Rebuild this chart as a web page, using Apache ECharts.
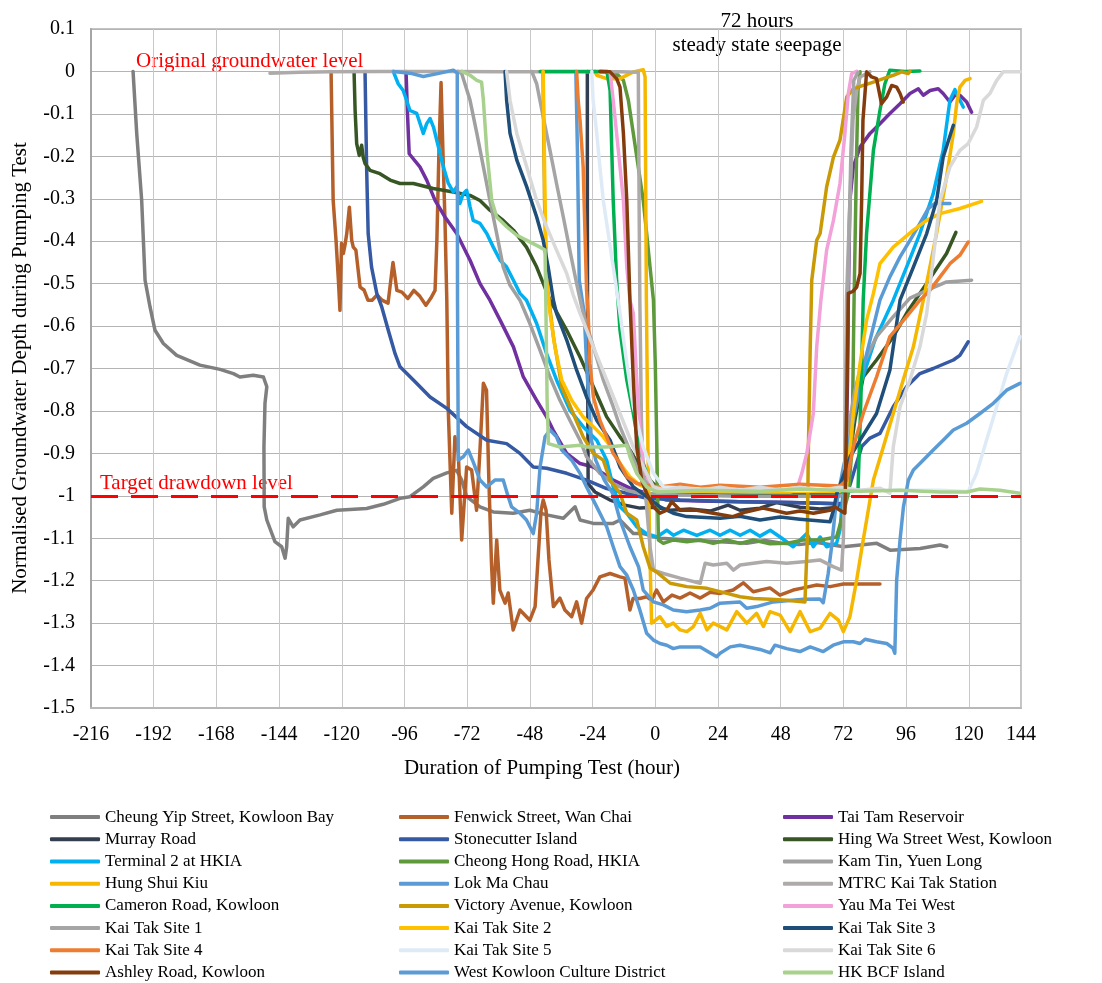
<!DOCTYPE html>
<html>
<head>
<meta charset="utf-8">
<title>Normalised groundwater depth during pumping tests</title>
<script src="https://cdn.jsdelivr.net/npm/echarts@6/dist/echarts.min.js"></script>
<style>
  html, body { margin: 0; padding: 0; background: #ffffff; }
  #chart { width: 1102px; height: 983px; }
</style>
</head>
<body>
<div id="chart"></div>
<script>
// Axis ranges and tick labels
const HOUR_MIN = -216, HOUR_MAX = 140, HOUR_STEP = 24;
const hourTickLabels = ['-216','-192','-168','-144','-120','-96','-72','-48','-24','0','24','48','72','96','120','144'];
const DEPTH_MIN = -1.5, DEPTH_MAX = 0.1, DEPTH_STEP = 0.1;
const depthTickLabels = ['0.1','0','-0.1','-0.2','-0.3','-0.4','-0.5','-0.6','-0.7','-0.8','-0.9','-1','-1.1','-1.2','-1.3','-1.4','-1.5'];
const TARGET_LEVEL = -1;

// Site records: [hour, normalised depth]
const cheungYipStreet = [[-199.9,0],[-198.5,-0.146],[-196.6,-0.304],[-195.3,-0.492],[-193.4,-0.555],[-191.5,-0.61],[-188.3,-0.641],[-183.2,-0.669],[-174.3,-0.692],[-166.6,-0.702],[-161.5,-0.712],[-159,-0.72],[-153.9,-0.716],[-150,-0.72],[-148.7,-0.743],[-149.4,-0.782],[-149.8,-0.885],[-149.7,-1.026],[-148.7,-1.057],[-145.6,-1.108],[-143,-1.12],[-141.7,-1.147],[-141.1,-1.12],[-140.5,-1.053],[-138.6,-1.073],[-136,-1.057],[-128.3,-1.045],[-121.9,-1.034],[-116.9,-1.032],[-110.5,-1.03],[-104.1,-1.02],[-97.7,-1.006],[-93.9,-1.002],[-88.8,-0.979],[-85,-0.959],[-79.8,-0.946],[-76,-0.94],[-74.1,-0.963],[-72.2,-1.002],[-67.1,-1.026],[-62,-1.038],[-54.4,-1.041],[-48,-1.034],[-41.6,-1.045],[-35.2,-1.053],[-30.7,-1.026],[-28.8,-1.057],[-23.7,-1.065],[-16.1,-1.065],[-13.5,-1.057],[-8.4,-1.089],[-4.6,-1.089],[1.9,-1.1],[13.4,-1.104],[24.9,-1.108],[35,-1.112],[42,-1.105],[47.8,-1.111],[55,-1.115],[62,-1.11],[72.1,-1.12],[84.8,-1.112],[89.9,-1.128],[101.4,-1.124],[109,-1.116],[111.6,-1.12]];
const fenwickStreet = [[-124.1,0],[-123.3,-0.304],[-122.2,-0.398],[-121.3,-0.492],[-120.7,-0.563],[-120.1,-0.405],[-119.4,-0.429],[-118.8,-0.41],[-118.1,-0.382],[-117.1,-0.32],[-116.2,-0.398],[-115.6,-0.414],[-114.6,-0.421],[-113,-0.508],[-111.5,-0.515],[-110,-0.539],[-108.4,-0.539],[-106.5,-0.527],[-104.6,-0.539],[-102.3,-0.546],[-100.4,-0.45],[-98.9,-0.516],[-97,-0.52],[-94.7,-0.535],[-92.4,-0.516],[-90.1,-0.53],[-87.8,-0.551],[-85.9,-0.534],[-84.3,-0.516],[-83.6,-0.398],[-82.8,-0.186],[-82,-0.026],[-81.3,-0.186],[-80.5,-0.351],[-79.8,-0.539],[-79.2,-0.805],[-77.9,-1.041],[-76.7,-0.861],[-75.4,-0.899],[-74.1,-1.104],[-72.2,-0.932],[-70.3,-0.939],[-68.4,-1.034],[-67.1,-0.892],[-65.8,-0.735],[-64.6,-0.751],[-63.7,-0.963],[-62.7,-1.158],[-62,-1.253],[-60.7,-1.104],[-59.5,-1.222],[-57.5,-1.253],[-56.3,-1.229],[-54.4,-1.316],[-51.8,-1.269],[-48,-1.293],[-46,-1.261],[-44.9,-1.151],[-43.7,-1.034],[-42.9,-1.01],[-41.8,-1.034],[-40.7,-1.151],[-39,-1.261],[-36.5,-1.241],[-34.6,-1.269],[-32,-1.285],[-30.1,-1.25],[-28.2,-1.3],[-26.3,-1.242],[-23.8,-1.222],[-21.2,-1.191],[-17.3,-1.183],[-13.5,-1.191],[-11.6,-1.194],[-9.7,-1.269],[-8.5,-1.242],[-5.9,-1.242],[-3.3,-1.238],[-1.4,-1.246],[0.5,-1.222],[3.1,-1.25],[6.4,-1.234],[9.5,-1.241],[13.3,-1.229],[17.2,-1.241],[21,-1.227],[24.8,-1.23],[29.8,-1.222],[33.7,-1.205],[37.5,-1.226],[43.9,-1.217],[47.7,-1.234],[52.8,-1.222],[56.7,-1.217],[61.8,-1.21],[66.9,-1.214],[72,-1.208],[86,-1.208]];
const taiTamReservoir = [[-95.4,0],[-94.9,-0.092],[-94.2,-0.194],[-90.1,-0.225],[-87.5,-0.256],[-84.3,-0.304],[-80.5,-0.343],[-76,-0.382],[-70.9,-0.445],[-67.1,-0.5],[-63.3,-0.539],[-59.4,-0.586],[-54.3,-0.649],[-50.5,-0.72],[-45.4,-0.775],[-41.6,-0.814],[-39.1,-0.845],[-33.9,-0.9],[-28.8,-0.924],[-23.7,-0.932],[-16.1,-0.963],[-9.7,-0.982],[-3.3,-0.994],[4.3,-1.01],[17.1,-1.012],[32.4,-1.014],[51.6,-1.016],[66.9,-1.018],[71.8,-1.018],[73,-0.892],[73.6,-0.727],[73.9,-0.539],[74.5,-0.304],[75.8,-0.225],[78.4,-0.178],[82.2,-0.146],[86,-0.123],[89.8,-0.099],[93.7,-0.076],[97.5,-0.052],[100.7,-0.041],[102.6,-0.056],[105.2,-0.045],[108.3,-0.041],[110.2,-0.052],[112.8,-0.072],[114.7,-0.056],[116.6,-0.056],[119.2,-0.072],[121.1,-0.096]];
const murrayRoad = [[-26,0],[-26,-0.304],[-25.9,-0.657],[-25.7,-0.972],[-23.1,-0.991],[-17.3,-1.01],[-11.6,-1.022],[-5.9,-1.029],[0,-1.027],[5.7,-1.034],[13.3,-1.031],[21,-1.036],[27.9,-1.022],[32.4,-1.034],[40.1,-1.029],[46.4,-1.016],[55.4,-1.027],[63,-1.031],[69.9,-1.027]];
const stonecutterIsland = [[-111.1,0],[-110.5,-0.225],[-109.9,-0.382],[-108.6,-0.461],[-106.6,-0.523],[-104.7,-0.555],[-102.2,-0.61],[-99.6,-0.665],[-97.7,-0.696],[-92.6,-0.727],[-86.2,-0.767],[-79.8,-0.794],[-72.2,-0.837],[-64.5,-0.869],[-56.9,-0.877],[-51.8,-0.9],[-46.7,-0.932],[-41.6,-0.935],[-33.9,-0.947],[-26.3,-0.963],[-18.6,-0.983],[-10.9,-0.994],[-3.3,-1.006],[9.5,-1.01],[32.4,-1.014],[51.6,-1.016],[66.9,-1.018],[71.8,-1.022],[74.5,-0.975],[76.8,-0.928],[79.1,-0.883],[82.2,-0.864],[86,-0.853],[91.1,-0.79],[96.2,-0.743],[101.3,-0.712],[106.4,-0.7],[114.1,-0.68],[116.6,-0.669],[119.8,-0.637]];
const hingWaStreetWest = [[-115.3,0],[-114.9,-0.092],[-114.3,-0.17],[-113.3,-0.198],[-112.4,-0.174],[-111.8,-0.202],[-111.1,-0.217],[-109.2,-0.233],[-105.4,-0.241],[-101.5,-0.256],[-97.7,-0.264],[-92.6,-0.264],[-85,-0.276],[-77.3,-0.284],[-70.9,-0.292],[-67.1,-0.304],[-63.3,-0.327],[-58.2,-0.351],[-54.3,-0.374],[-49.3,-0.414],[-45.4,-0.461],[-40.3,-0.539],[-33.9,-0.61],[-28.8,-0.673],[-23.7,-0.743],[-18.6,-0.814],[-16.1,-0.837],[-13.5,-0.861],[-9.7,-0.892],[-5.9,-0.932],[-2.1,-0.963],[1.8,-0.987],[9.5,-0.994],[24.8,-0.998],[47.7,-0.996],[70.7,-0.998],[73.7,-0.94],[76.4,-0.822],[79.6,-0.72],[84.7,-0.68],[91.1,-0.625],[96.2,-0.57],[101.3,-0.523],[106.4,-0.476],[111.5,-0.429],[115.1,-0.379]];
const terminal2Hkia = [[-100.3,0],[-98.4,-0.029],[-96.5,-0.045],[-95.2,-0.068],[-93.9,-0.092],[-91.3,-0.099],[-88.8,-0.146],[-87.5,-0.123],[-86.2,-0.111],[-84.9,-0.131],[-83,-0.178],[-81.1,-0.225],[-79.2,-0.264],[-77.3,-0.284],[-76,-0.272],[-74.8,-0.311],[-73.5,-0.288],[-72.2,-0.28],[-70.9,-0.319],[-69.7,-0.351],[-67.1,-0.358],[-64.5,-0.382],[-62,-0.414],[-59.4,-0.445],[-56.9,-0.461],[-54.3,-0.492],[-51.8,-0.523],[-49.3,-0.539],[-45.4,-0.594],[-41.6,-0.665],[-37.8,-0.727],[-32.7,-0.798],[-27.6,-0.837],[-22.4,-0.869],[-18.6,-0.916],[-16.1,-0.979],[-13.5,-1.026],[-10.9,-1.041],[-7.1,-1.073],[-3.3,-1.089],[0.6,-1.097],[4.4,-1.081],[7,-1.093],[10.8,-1.081],[15.9,-1.093],[21,-1.081],[24.8,-1.093],[28.7,-1.081],[32.5,-1.093],[36.3,-1.081],[40.1,-1.095],[44,-1.081],[47.8,-1.097],[52.8,-1.12],[58,-1.089],[60.5,-1.12],[63.1,-1.097],[65.6,-1.12],[69.4,-1.112],[70.7,-1.081],[72.6,-0.94],[75.3,-0.822],[79.1,-0.727],[84.1,-0.633],[91.1,-0.539],[96.2,-0.461],[101.3,-0.382],[106.4,-0.288],[110.2,-0.186],[112.8,-0.068],[114.7,-0.043],[116,-0.06],[117.9,-0.084]];
const cheongHongRoad = [[-21.2,0],[-15.4,-0.002],[-12.2,-0.021],[-10.3,-0.068],[-8.4,-0.146],[-6.5,-0.225],[-4.6,-0.304],[-3.3,-0.382],[-2,-0.461],[-0.7,-0.539],[0,-0.688],[0.6,-0.885],[0.8,-0.963],[1.2,-1.104],[3.1,-1.112],[7,-1.104],[12.1,-1.108],[17.2,-1.104],[22.2,-1.112],[27.4,-1.104],[32.5,-1.112],[37.5,-1.104],[43.9,-1.113],[50.3,-1.112],[56.5,-1.104],[63.1,-1.104],[69.4,-1.097],[72,-1.041],[73.9,-0.994],[75.3,-0.892],[76.1,-0.539],[77.1,-0.186],[77.6,-0.045],[78.4,-0.001]];
const kamTin = [[-75.5,0],[-74.1,-0.005],[-70.9,-0.068],[-68.3,-0.146],[-65.8,-0.225],[-63.3,-0.304],[-60.7,-0.382],[-58.2,-0.461],[-55.6,-0.504],[-51.8,-0.539],[-48,-0.594],[-44.1,-0.657],[-40.3,-0.72],[-36.5,-0.775],[-32.7,-0.822],[-28.8,-0.869],[-26.3,-0.908],[-21.2,-0.947],[-16.1,-0.971],[-10.9,-0.987],[-5.9,-0.994],[9.5,-0.998],[32.5,-1.001],[55.4,-1.001],[70.7,-1.001],[72.6,-0.94],[74.5,-0.822],[76.4,-0.751],[78.4,-0.704],[84.7,-0.625],[91.1,-0.578],[97.5,-0.534],[103.9,-0.516],[111.5,-0.496],[121.1,-0.492]];
const hungShuiKiu = [[-23.1,0],[-22.4,-0.009],[-18.6,-0.017],[-13.5,-0.017],[-8.4,-0.001],[-4.6,0.004],[-3.9,-0.013],[-3.4,-0.539],[-2.8,-0.892],[-2,-1.151],[-1.4,-1.3],[-0.7,-1.3],[1.8,-1.285],[4.4,-1.308],[6.9,-1.3],[9.5,-1.316],[12.1,-1.32],[14.6,-1.308],[17.2,-1.277],[19.8,-1.316],[22.2,-1.3],[27.4,-1.316],[31.2,-1.273],[35,-1.3],[38.8,-1.277],[41.4,-1.308],[43.9,-1.273],[47.8,-1.281],[51.6,-1.32],[55.4,-1.273],[59.3,-1.32],[63.1,-1.312],[66.9,-1.277],[70.1,-1.293],[72,-1.32],[74.5,-1.285],[77.1,-1.198],[79.6,-1.104],[83.5,-0.963],[87.3,-0.885],[91.1,-0.806],[94.9,-0.727],[98.8,-0.649],[102.6,-0.539],[107.7,-0.381],[111.5,-0.249],[114.1,-0.146],[115.4,-0.075],[116.6,-0.037],[118.6,-0.021],[120.5,-0.017]];
const lokMaChau = [[-30.4,0],[-29.8,-0.186],[-29.1,-0.492],[-27.2,-0.57],[-26.3,-0.688],[-25.3,-0.79],[-24.7,-0.861],[-22.8,-0.916],[-19.5,-0.963],[-16.3,-0.994],[-13.5,-1.057],[-9.7,-1.12],[-6.4,-1.167],[-4.6,-1.222],[-0.7,-1.25],[3.1,-1.257],[6.9,-1.269],[12,-1.273],[17.2,-1.269],[21,-1.265],[24.8,-1.253],[32.4,-1.25],[35,-1.265],[38.8,-1.261],[45.2,-1.25],[50.3,-1.247],[56.7,-1.244],[63,-1.243],[64.3,-1.252],[66.2,-1.183],[67.5,-1.12],[68.8,-1.041],[70.1,-0.994],[72,-0.932],[73.9,-0.885],[75.8,-0.822],[80.3,-0.681],[86,-0.539],[89.8,-0.484],[93.7,-0.437],[97.5,-0.398],[101.3,-0.358],[104.5,-0.323],[107.1,-0.311],[112.8,-0.311]];
const mtrcKaiTakStation = [[-147.5,-0.004],[-136,-0.002],[-124.5,-0.001],[-105.4,0],[-76.7,0],[-59.4,-0.001],[-36.5,-0.001],[-13.5,-0.001],[-6.5,-0.002],[-6.2,-0.304],[-5.9,-0.539],[-5.3,-0.822],[-4.6,-0.947],[-3.3,-1.026],[-2,-1.12],[-0.7,-1.175],[3.1,-1.183],[9.5,-1.194],[17.2,-1.206],[19.1,-1.159],[22.2,-1.163],[27.4,-1.159],[29.9,-1.175],[32.5,-1.163],[37.5,-1.159],[42.6,-1.155],[50.3,-1.159],[57.9,-1.155],[63,-1.151],[68.1,-1.167],[71.3,-1.175],[72,-1.104],[72.6,-0.885],[73.2,-0.539],[74.5,-0.304],[75.7,-0.115],[77.1,-0.045],[78.4,-0.013],[82.2,-0.001]];
const cameronRoad = [[-44.1,0],[-36.5,0],[-28.8,0],[-18.5,0],[-17.3,-0.045],[-16.1,-0.304],[-14.8,-0.492],[-13.5,-0.61],[-10.9,-0.727],[-8.4,-0.806],[-5.9,-0.9],[-3.3,-0.947],[-0.7,-0.979],[1.8,-0.987],[24.8,-0.991],[47.7,-0.991],[70.7,-0.991],[77.6,-0.987],[78.7,-0.775],[79.6,-0.539],[80.9,-0.381],[83.5,-0.186],[86,-0.092],[87.9,-0.029],[89.8,0.003],[95.6,0],[101.3,0.001]];
const victoryAvenue = [[-43,0],[-42.4,-0.304],[-41.6,-0.492],[-39,-0.625],[-35.8,-0.743],[-31.4,-0.806],[-27.6,-0.861],[-23.7,-0.9],[-19.9,-0.916],[-17.3,-0.963],[-13.5,-0.994],[-10.9,-1.041],[-7.1,-1.057],[-4.6,-1.12],[-2,-1.17],[0.6,-1.18],[5.7,-1.206],[12.1,-1.214],[19.8,-1.218],[27.4,-1.23],[32.5,-1.238],[37.6,-1.242],[44,-1.244],[50.3,-1.246],[57.3,-1.25],[58.2,-1.104],[58.6,-0.892],[59.3,-0.657],[59.9,-0.492],[61.8,-0.398],[63.1,-0.382],[65.6,-0.272],[68.2,-0.202],[70.7,-0.162],[73.3,-0.06],[75.8,-0.041],[79.6,-0.033],[83.5,-0.025],[87.3,-0.017],[91.1,-0.009],[94.3,-0.001],[96.8,-0.005],[97.5,0]];
const yauMaTeiWest = [[-18.6,0],[-17.3,-0.002],[-16.1,-0.068],[-14.8,-0.146],[-13.5,-0.225],[-12.2,-0.304],[-10.9,-0.461],[-9.7,-0.539],[-8.4,-0.57],[-7.1,-0.727],[-5.9,-0.845],[-4.6,-0.932],[-2,-0.971],[0.6,-0.987],[17.2,-0.989],[36.3,-0.991],[51.6,-0.991],[54.1,-0.987],[56.1,-0.947],[58,-0.9],[60.5,-0.806],[61.8,-0.649],[63.4,-0.539],[65.6,-0.421],[68.2,-0.351],[70.7,-0.264],[72.6,-0.146],[73.9,-0.052],[75.2,-0.005],[77.1,0]];
const kaiTakSite1 = [[-47.3,0],[-45.4,-0.029],[-42.9,-0.107],[-40.3,-0.186],[-37.8,-0.264],[-35.2,-0.343],[-32.7,-0.421],[-30.1,-0.5],[-27.6,-0.57],[-23.7,-0.649],[-19.9,-0.727],[-16.1,-0.79],[-13.5,-0.837],[-10.3,-0.885],[-7.1,-0.932],[-3.3,-0.971],[0.6,-0.987],[9.5,-0.987],[32.4,-0.984],[55.4,-0.987],[70.7,-0.984],[72.6,-0.94],[73.7,-0.539],[74.9,-0.186],[76,-0.021],[77.6,-0.002]];
const kaiTakSite2 = [[-42.9,0],[-42.2,-0.304],[-41.6,-0.492],[-40.3,-0.57],[-38.4,-0.649],[-35.8,-0.727],[-32,-0.775],[-27.6,-0.814],[-23.7,-0.837],[-19.9,-0.861],[-16.1,-0.892],[-13.5,-0.924],[-9.7,-0.955],[-5.9,-0.975],[-2,-0.984],[9.5,-0.989],[32.4,-0.989],[55.4,-0.989],[70.7,-0.989],[73.2,-0.979],[75.8,-0.806],[78.4,-0.688],[80.9,-0.586],[83.5,-0.523],[86,-0.453],[91.1,-0.414],[98.8,-0.374],[103.9,-0.351],[109,-0.335],[116.6,-0.323],[124.9,-0.306]];
const kaiTakSite3 = [[-57.5,0],[-56.9,-0.068],[-55.6,-0.146],[-53,-0.209],[-49.2,-0.272],[-45.4,-0.343],[-42.9,-0.398],[-41,-0.461],[-39,-0.539],[-37.8,-0.57],[-33.9,-0.633],[-30.1,-0.704],[-26.3,-0.767],[-22.4,-0.822],[-17.3,-0.869],[-13.5,-0.932],[-8.4,-0.979],[-3.3,-1.002],[1.8,-1.026],[6.9,-1.041],[12,-1.049],[24.8,-1.053],[32.4,-1.048],[40.1,-1.057],[47.8,-1.05],[55.4,-1.055],[66.9,-1.061],[68.2,-1.034],[69.5,-0.994],[71.4,-0.963],[74.6,-0.908],[78.4,-0.869],[84.7,-0.806],[89.8,-0.704],[93.7,-0.539],[98.8,-0.461],[103.9,-0.382],[107.7,-0.304],[110.2,-0.202],[114.1,-0.127]];
const kaiTakSite4 = [[-30.1,0],[-29.5,-0.068],[-28.8,-0.115],[-27.6,-0.225],[-26.9,-0.382],[-26.3,-0.516],[-25.7,-0.57],[-25,-0.688],[-23.7,-0.767],[-21.2,-0.822],[-18.6,-0.861],[-16.1,-0.9],[-13.5,-0.924],[-10.9,-0.955],[-7.1,-0.971],[-3.3,-0.975],[1.8,-0.979],[9.5,-0.973],[17.2,-0.98],[24.8,-0.975],[40.1,-0.98],[55.4,-0.973],[70.7,-0.977],[73.3,-0.963],[75.8,-0.885],[79.6,-0.806],[84.7,-0.72],[89.8,-0.625],[96.2,-0.578],[101.3,-0.539],[105.1,-0.516],[109,-0.484],[112.8,-0.453],[116.6,-0.433],[119.8,-0.402]];
const kaiTakSite5 = [[-24.3,0],[-23.8,-0.068],[-22.4,-0.146],[-21.2,-0.225],[-19.9,-0.304],[-18,-0.382],[-16.1,-0.461],[-14.2,-0.539],[-13.5,-0.57],[-10.9,-0.688],[-8.4,-0.79],[-4.6,-0.885],[-0.7,-0.947],[3.1,-0.979],[17.2,-0.984],[47.7,-0.987],[78.4,-0.987],[109,-0.987],[117.4,-0.989],[119.8,-0.99],[123,-0.947],[126.8,-0.869],[130.7,-0.79],[134.5,-0.712],[139.6,-0.625]];
const kaiTakSite6 = [[-56.9,0],[-55.6,-0.068],[-53,-0.146],[-49.2,-0.225],[-45.4,-0.304],[-41.6,-0.366],[-37.8,-0.421],[-33.9,-0.476],[-31.4,-0.527],[-28.8,-0.57],[-23.7,-0.649],[-18.6,-0.727],[-13.5,-0.806],[-8.4,-0.885],[-3.3,-0.947],[-0.7,-0.979],[3.8,-0.987],[9.5,-0.98],[17.2,-0.987],[24.8,-0.98],[32.4,-0.987],[40.1,-0.98],[47.8,-0.987],[55.4,-0.98],[63.1,-0.987],[70.7,-0.98],[78.4,-0.987],[86,-0.982],[89.8,-0.994],[91.1,-0.885],[93.7,-0.79],[97.5,-0.727],[101.3,-0.649],[103.9,-0.57],[106.3,-0.445],[109,-0.304],[112.8,-0.225],[116.6,-0.186],[119.8,-0.17],[123,-0.131],[125.6,-0.068],[128.1,-0.052],[130.7,-0.021],[133.2,-0.001],[139.6,-0.001]];
const ashleyRoad = [[-21.2,0],[-17.3,-0.001],[-14.8,-0.017],[-13.5,-0.037],[-12.2,-0.146],[-10.9,-0.304],[-9.7,-0.539],[-8.4,-0.727],[-7.1,-0.885],[-5.2,-0.963],[-3.3,-0.994],[-0.7,-1.026],[1.8,-1.041],[4.4,-1.034],[6.3,-1.014],[9.5,-1.034],[15.9,-1.034],[22.2,-1.041],[29.7,-1.049],[34.7,-1.038],[41.2,-1.029],[45.1,-1.034],[50.3,-1.041],[55.4,-1.036],[60.5,-1.041],[66.9,-1.034],[68.8,-1.026],[70.7,-1.034],[72.6,-1.041],[73.2,-0.822],[73.9,-0.523],[75.7,-0.518],[77.1,-0.508],[78.4,-0.476],[79,-0.304],[79.5,-0.115],[80.9,-0.001],[82.8,-0.013],[84.7,-0.017],[86.6,-0.076],[88.6,-0.06],[90.5,-0.033],[92.4,-0.037],[93.7,-0.052],[94.9,-0.072]];
const westKowloonCultureDistrict = [[-100.3,0],[-93.9,-0.004],[-88.8,-0.012],[-82.4,-0.004],[-77.3,0.003],[-75.8,-0.004],[-75.7,-0.539],[-75.4,-0.916],[-73.5,-0.908],[-71.6,-0.892],[-69.7,-0.92],[-67.1,-0.963],[-64.5,-0.979],[-61.4,-0.963],[-58.2,-0.963],[-56.3,-1.002],[-55,-1.026],[-51.8,-1.041],[-49.3,-1.057],[-46.7,-1.089],[-45.4,-1.041],[-44.1,-0.932],[-42.2,-0.861],[-40.3,-0.845],[-37.8,-0.861],[-35.8,-0.892],[-32,-0.916],[-28.8,-0.947],[-26.3,-0.979],[-22.4,-1.026],[-18.6,-1.073],[-16.1,-1.12],[-13.5,-1.167],[-10.9,-1.187],[-8.4,-1.222],[-5.9,-1.269],[-3.3,-1.324],[-0.7,-1.34],[1.8,-1.348],[4.4,-1.352],[6.9,-1.36],[9.5,-1.356],[17.2,-1.356],[23.5,-1.379],[24.8,-1.371],[28.7,-1.356],[32.4,-1.352],[40.1,-1.362],[44,-1.37],[45.8,-1.352],[50.3,-1.36],[55.4,-1.367],[59.3,-1.356],[64.3,-1.367],[68.1,-1.352],[72,-1.344],[75.8,-1.344],[78.4,-1.348],[80.3,-1.338],[84.7,-1.344],[88.6,-1.348],[91,-1.359],[91.7,-1.371],[92.4,-1.199],[93.7,-1.104],[95,-1.026],[96.9,-0.963],[98.8,-0.939],[101.3,-0.924],[106.4,-0.892],[110.2,-0.869],[114.1,-0.845],[119.2,-0.829],[124.3,-0.806],[129.4,-0.782],[134.5,-0.751],[139.6,-0.735]];
const hkBcfIsland = [[-74,0],[-70.9,-0.009],[-68.3,-0.021],[-66.5,-0.025],[-65.8,-0.068],[-64.5,-0.186],[-62.6,-0.304],[-60.7,-0.343],[-56.9,-0.366],[-53,-0.386],[-49.2,-0.398],[-44.1,-0.414],[-42.2,-0.421],[-41.9,-0.539],[-41.4,-0.775],[-40.9,-0.877],[-36.5,-0.885],[-28.8,-0.881],[-26.3,-0.885],[-18.6,-0.885],[-10.9,-0.881],[-9.7,-0.908],[-7.1,-0.947],[-3.3,-0.979],[0.6,-0.991],[17.2,-0.987],[40.1,-0.989],[55.4,-0.984],[78.4,-0.989],[93.7,-0.987],[109,-0.991],[119.3,-0.991],[124.3,-0.984],[131.9,-0.987],[139.6,-0.994]];

// Site names, colours and data, in legend order (row by row, three per row)
const siteNames = [
  'Cheung Yip Street, Kowloon Bay', 'Fenwick Street, Wan Chai', 'Tai Tam Reservoir',
  'Murray Road', 'Stonecutter Island', 'Hing Wa Street West, Kowloon',
  'Terminal 2 at HKIA', 'Cheong Hong Road, HKIA', 'Kam Tin, Yuen Long',
  'Hung Shui Kiu', 'Lok Ma Chau', 'MTRC Kai Tak Station',
  'Cameron Road, Kowloon', 'Victory Avenue, Kowloon', 'Yau Ma Tei West',
  'Kai Tak Site 1', 'Kai Tak Site 2', 'Kai Tak Site 3',
  'Kai Tak Site 4', 'Kai Tak Site 5', 'Kai Tak Site 6',
  'Ashley Road, Kowloon', 'West Kowloon Culture District', 'HK BCF Island'
];
const siteColors = [
  '#7f7f7f', '#b5602a', '#7030a0',
  '#333f50', '#3559a3', '#375623',
  '#00b0f0', '#5e9a3c', '#a0a0a0',
  '#f5b700', '#5b9bd5', '#aeaaaa',
  '#00b050', '#c99a06', '#f2a1d9',
  '#a5a5a5', '#ffc000', '#1f4e79',
  '#ed7d31', '#deebf7', '#d9d9d9',
  '#843c0c', '#5b9bd5', '#a9d18e'
];
const siteData = [
  cheungYipStreet, fenwickStreet, taiTamReservoir,
  murrayRoad, stonecutterIsland, hingWaStreetWest,
  terminal2Hkia, cheongHongRoad, kamTin,
  hungShuiKiu, lokMaChau, mtrcKaiTakStation,
  cameronRoad, victoryAvenue, yauMaTeiWest,
  kaiTakSite1, kaiTakSite2, kaiTakSite3,
  kaiTakSite4, kaiTakSite5, kaiTakSite6,
  ashleyRoad, westKowloonCultureDistrict, hkBcfIsland
];

const FONT = "'Liberation Serif', 'Times New Roman', serif";

const series = siteNames.map((name, i) => ({
  name: name,
  type: 'line',
  data: siteData[i],
  showSymbol: false,
  symbol: 'none',
  color: siteColors[i],
  lineStyle: { width: 3.5, color: siteColors[i], cap: 'round', join: 'round' },
  emphasis: { disabled: true },
  z: 2 + i * 0.01
}));

// Target drawdown reference line
series[series.length - 1].markLine = {
  silent: true,
  symbol: 'none',
  label: { show: false },
  lineStyle: { color: '#ff0000', type: [27, 13], width: 3 },
  data: [{ yAxis: TARGET_LEVEL }],
  z: 6
};

// Three legend columns of eight entries each
const legendColumn = (col, left) => ({
  orient: 'vertical',
  left: left,
  top: 806,
  height: 200,
  padding: 0,
  itemWidth: 50,
  itemHeight: 4,
  itemGap: 0,
  icon: 'roundRect',
  selectedMode: false,
  textStyle: { fontFamily: FONT, fontSize: 17, color: '#000000', lineHeight: 22.2 },
  data: siteNames.filter((_, i) => i % 3 === col)
});

const chart = echarts.init(document.getElementById('chart'), null, { renderer: 'canvas' });
chart.setOption({
  animation: false,
  backgroundColor: '#ffffff',
  grid: {
    left: 91, right: 81, top: 29, bottom: 275,
    show: true, borderColor: '#c4c4c4', borderWidth: 2, backgroundColor: 'transparent'
  },
  xAxis: {
    type: 'value',
    min: HOUR_MIN, max: HOUR_MAX, interval: HOUR_STEP,
    axisLine: { show: true, onZero: false, lineStyle: { color: '#b8b8b8', width: 2 } },
    axisTick: { show: false },
    axisLabel: {
      margin: 17, fontFamily: FONT, fontSize: 20, color: '#000000',
      formatter: v => hourTickLabels[Math.round((v - HOUR_MIN) / HOUR_STEP)]
    },
    splitLine: { show: true, lineStyle: { color: '#c8c8c8', width: 1 } }
  },
  yAxis: {
    type: 'value',
    min: DEPTH_MIN, max: DEPTH_MAX, interval: DEPTH_STEP,
    axisLine: { show: true, onZero: false, lineStyle: { color: '#a6a6a6', width: 2 } },
    axisTick: { show: false },
    axisLabel: {
      margin: 16, fontFamily: FONT, fontSize: 20, color: '#000000',
      formatter: v => depthTickLabels[Math.round((DEPTH_MAX - v) / DEPTH_STEP)]
    },
    splitLine: { show: true, lineStyle: { color: '#b4b4b4', width: 1 } }
  },
  legend: [legendColumn(0, 50), legendColumn(1, 399), legendColumn(2, 783)],
  graphic: [
    { type: 'text', x: 20, y: 368, rotation: Math.PI / 2,
      style: { text: 'Normalised Groundwater Depth during Pumping Test', fill: '#000000',
               fontFamily: FONT, fontSize: 21, align: 'center', verticalAlign: 'middle' } },
    { type: 'text', x: 542, y: 768,
      style: { text: 'Duration of Pumping Test (hour)', fill: '#000000',
               fontFamily: FONT, fontSize: 21, align: 'center', verticalAlign: 'middle' } },
    { type: 'text', x: 136, y: 61,
      style: { text: 'Original groundwater level', fill: '#ff0000',
               fontFamily: FONT, fontSize: 21, align: 'left', verticalAlign: 'middle' } },
    { type: 'text', x: 100, y: 483,
      style: { text: 'Target drawdown level', fill: '#ff0000',
               fontFamily: FONT, fontSize: 21, align: 'left', verticalAlign: 'middle' } },
    { type: 'text', x: 757, y: 21,
      style: { text: '72 hours', fill: '#000000',
               fontFamily: FONT, fontSize: 21, align: 'center', verticalAlign: 'middle' } },
    { type: 'text', x: 757, y: 45,
      style: { text: 'steady state seepage', fill: '#000000',
               fontFamily: FONT, fontSize: 21, align: 'center', verticalAlign: 'middle' } }
  ],
  series: series
});
</script>
</body>
</html>
